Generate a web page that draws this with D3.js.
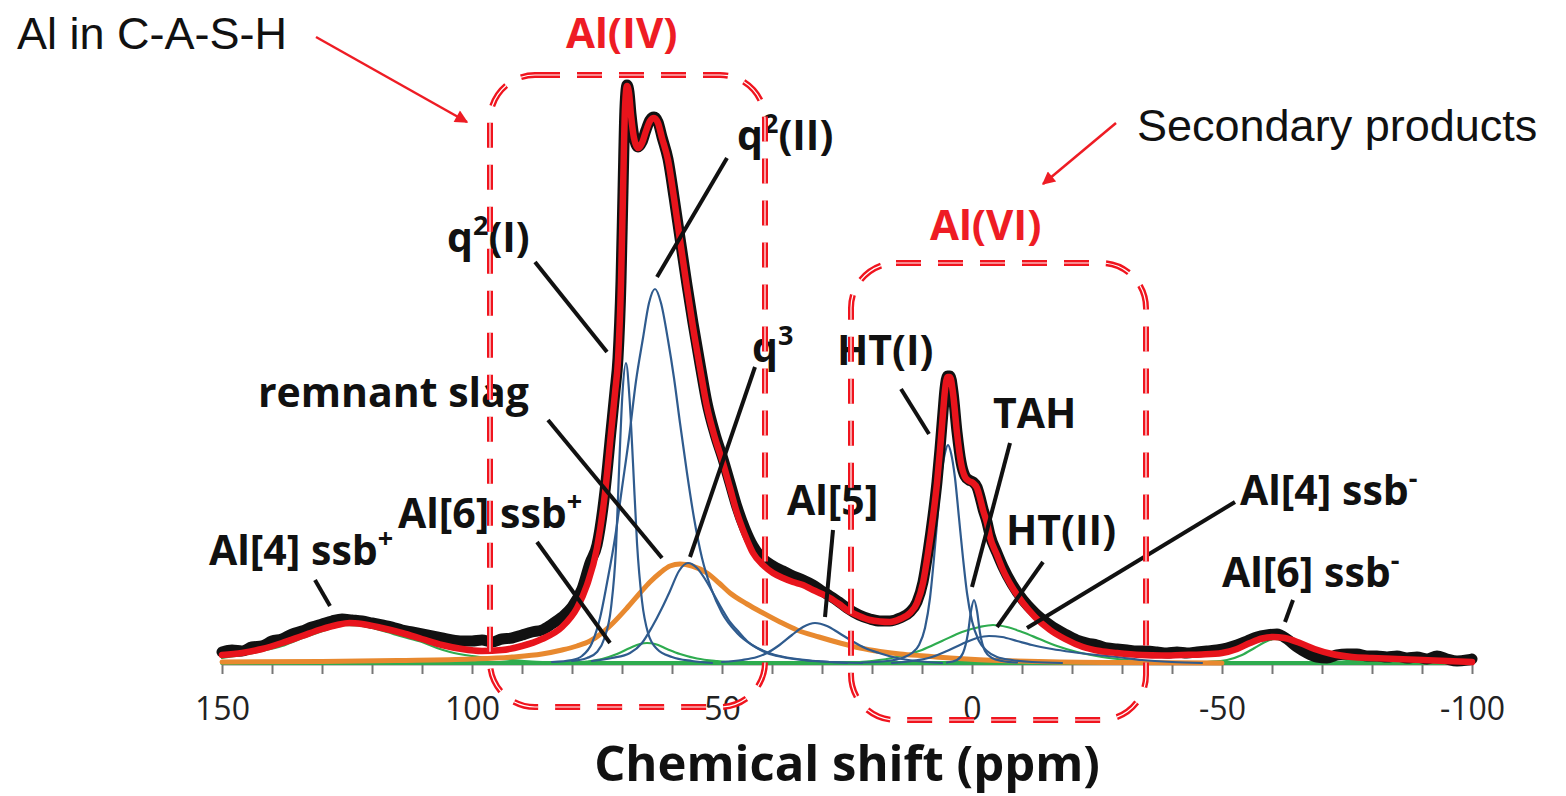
<!DOCTYPE html>
<html>
<head>
<meta charset="utf-8">
<title>27Al MAS NMR deconvolution</title>
<script src="https://d3js.org/d3.v7.min.js"></script>
<style>
  body { margin: 0; background: #fff; }
  svg { display: block; }
  .curve { fill: none; stroke-linejoin: round; stroke-linecap: round; }
  .lbl { font-family: "Open Sans", sans-serif; font-weight: 700; font-size: 41px; fill: #111; }
  .note { font-family: "Liberation Sans", Arial, sans-serif; fill: #111; }
</style>
</head>
<body>
<svg width="1566" height="796"></svg>
<script>
// chemical shift axis (ppm)
const xTicks = d3.range(150, -101, -10)
const xTickLabels = [150, 100, 50, 0, -50, -100]

// [ppm, intensity a.u.]
const experimental = [[150,11],[148,13],[146,12],[144,16],[142,17],[140,22],[138,24],[136,29],[134,32],[132,36],[130,39],[128,42],[126,44],[124,43],[122,42],[120,40],[118,38],[116,36],[114,33],[112,31],[110,29],[108,27],[106,25],[104,23],[102,22],[100,22],[98,23],[96,21],[94,24],[92,25],[90,28],[88,31],[86,33],[84,39],[82,46],[80,56],[78,74],[76.4,100],[75,118],[73.4,172],[72.2,232],[71.4,272],[70.8,305],[70.2,382],[69.8,472],[69.4,556],[69,578],[68.6,571],[68.2,549],[67.6,526],[66.8,516],[66,521],[65.2,533],[64.4,543],[63.6,546],[62.8,541],[62,526],[60.8,504],[59.6,466],[58.4,425],[57,378],[55.8,340],[54.4,299],[53,260],[51.4,229],[49.8,204],[48.4,180],[47,156],[45.4,134],[43.8,117],[41.8,104],[39.8,97],[37.8,92],[35.8,87],[33.8,83],[31.8,78],[30,72],[28.4,67],[26.6,61],[25,55],[22.6,48],[20.4,44],[18.4,42],[16.4,42],[14.4,45],[12.4,51],[11,61],[9.8,81],[8.8,111],[7.8,147],[7,181],[6.4,214],[5.8,251],[5.4,274],[4.9,287],[4.4,287],[3.8,271],[3,231],[2.2,201],[1.4,187],[0.6,183],[-0.2,181],[-1,176],[-1.6,166],[-2.2,154],[-3,141],[-3.6,128],[-5,110],[-6.2,96],[-8,79],[-10.2,63],[-12.6,50],[-15.6,38],[-18.6,29],[-21,23],[-23,20],[-25,18],[-27,15],[-29,14],[-31,13],[-33,12],[-35,12],[-37,11],[-39,10],[-41,11],[-43,10],[-45,11],[-47,12],[-49,13],[-51,15],[-53,18],[-55,22],[-57,26],[-59,28],[-61,29],[-63,24],[-65,16],[-67,10],[-69,6],[-71,5],[-73,8],[-75,9],[-77,9],[-79,7],[-81,7],[-83,6],[-85,7],[-87,5],[-89,6],[-91,4],[-93,7],[-95,4],[-97,2],[-99,3],[-100,4]]

const fit = [[150,8],[146,10],[142,14],[138,20],[134,27],[130,34],[127,38],[124.5,40],[122,39],[118,35],[114,30],[110,24],[106,18],[102,14],[98,12],[94,13],[90,17],[86,24],[82,36],[79,55],[77,78],[75,115],[73.4,170],[72.2,230],[71.4,270],[70.8,303],[70.2,380],[69.8,470],[69.4,555],[69,577],[68.6,570],[68.2,548],[67.6,525],[66.8,515],[66,520],[65.2,532],[64.4,542],[63.6,545],[62.8,540],[62,525],[60.8,503],[59.6,465],[58.4,423],[57,375],[55.8,336],[54.4,295],[53,256],[51.4,225],[49.8,200],[48.4,175],[47,150],[45.4,128],[43.8,110],[41.8,98],[39.8,90],[37.8,85],[35.8,81],[33.8,78],[31.8,73],[30,69],[28.4,65],[26.6,59],[25,53],[22.6,47],[20.4,43],[18.4,41.5],[16.4,41],[14.4,44],[12.4,50],[11,60],[9.8,80],[8.8,110],[7.8,146],[7,180],[6.4,213],[5.8,250],[5.4,273],[4.9,286],[4.4,286],[3.8,270],[3,230],[2.2,200],[1.4,186],[0.6,182],[-0.2,180],[-1,175],[-1.6,165],[-2.2,153],[-3,140],[-3.6,126],[-5,108],[-6.2,93],[-8,76],[-10.2,60],[-12.6,46],[-15.6,33],[-18.6,24],[-22.2,16],[-25.6,12],[-29,10],[-34,8],[-38,7.5],[-42,8],[-46,8.5],[-50,10],[-53,14],[-55.6,20],[-58,24.5],[-60.2,26],[-62.5,25],[-65.6,20],[-68.5,14],[-72,9],[-76,6],[-80,5],[-85,4],[-90,3],[-95,2],[-100,1]]

const baseline = [[150,0],[-100,0]]

// deconvoluted components
const remnantSlag = [[150,1],[130,1.5],[115,2.5],[100,4],[92,6],[86,9],[82,13],[79,17],[76.4,22],[74,30],[71.8,40],[69,55],[66.4,70],[64.4,81],[62.4,90],[60.4,97],[58.4,99],[56,97],[53,90],[50.6,80],[48.4,70],[45,59],[41.8,50],[38.4,41],[35,33],[30.6,26],[26.4,20],[22.4,15],[18.4,11.5],[14.4,9],[9.4,7],[4.4,5],[-0.6,3.5],[-5.6,2.5],[-15.6,1.2],[-30,0.5],[-50,0]]
const q2I = [[80,2],[77,5],[75,11],[73.5,25],[72.2,55],[71.2,115],[70.5,205],[69.9,270],[69.2,300],[68.5,265],[67.8,200],[67,120],[66,62],[64.8,30],[63,14],[60,6],[56,2],[52,0]]
const q2II = [[84,1],[80,3],[78,7],[76,20],[74.4,45],[73,80],[71.4,125],[70,175],[68.6,225],[67.2,282],[65.8,325],[64.6,360],[63.4,374],[62.2,360],[60.8,323],[59.6,285],[58.4,240],[57,190],[55.6,145],[54,105],[52.2,75],[50,50],[47,30],[44,18],[40,9],[35,4],[30,1.5],[25,0]]
const q3 = [[76,2],[72,5],[68.4,10],[66,20],[64,36],[62,55],[60.4,72],[58.6,92],[56.8,100],[55,95],[53.4,84],[51.8,70],[50,54],[48.4,41],[47,33],[45,22],[43,15],[41,10],[38,6],[34,3],[28,1],[22,0]]
const al5 = [[50,1],[46,3],[43,6],[41,10],[38.5,18],[36,28],[33.8,36],[31.4,40],[29,37],[26.6,30],[24,22],[21.4,15],[18.6,10],[15,5],[11,2],[6,0]]
const htI = [[22,0.5],[17,2],[14,5],[12,10],[10.6,18],[9.4,35],[8.4,65],[7.6,105],[7,140],[6.2,185],[5.4,210],[4.8,218],[4.2,210],[3.4,185],[2.6,145],[1.8,105],[1,70],[0,42],[-1.4,22],[-3,12],[-5,6],[-8,3],[-12,1],[-18,0]]
const tah = [[5,0.5],[3,3],[1.8,10],[0.8,30],[0.2,52],[-0.4,63],[-1,52],[-1.6,30],[-2.6,12],[-4,5],[-6,2],[-9,0.5]]
const htII = [[16,0],[12,2],[8,6],[5,12],[2,19],[-1,25],[-3.4,27],[-6,26],[-9,22],[-12,18],[-16,14],[-20,11],[-25,8],[-29,6],[-34,3],[-40,1],[-46,0]]
const al4ssbPlus = [[150,5],[146,8],[142,12],[138,17],[134.4,24],[131,30],[128,35],[126,38],[123,37.5],[120,35],[117,31],[114.4,27],[110,21],[107,15],[104.4,11],[100,7],[96.4,5],[92,3],[88,1.5],[82,0.5],[76,0]]
const al6ssbPlus = [[80,0],[77,1.5],[74,4],[71,9],[68.4,15],[66.4,19],[65,20],[63.4,19],[61,14],[58.4,9],[55,4.5],[51,2],[46,0.5],[40,0]]
const al4ssbMinus = [[26,0],[20,2],[15,6],[10,13],[6,22],[2,31],[-1.5,36],[-4.2,38],[-7,36],[-10,31],[-13.5,24],[-17,17],[-21,11],[-26,6],[-31,3],[-37,1],[-44,0]]
const al6ssbMinus = [[-42,0],[-47,1],[-51,3],[-54,8],[-56.5,15],[-58.6,21],[-60.6,24],[-62.6,22],[-65,17],[-67.5,11],[-70,7],[-74,3.5],[-79,1.5],[-86,0.5],[-92,0]]

const svg = d3.select("svg")
const x = d3.scaleLinear().domain([150, -100]).range([222, 1472])
const y = d3.scaleLinear().domain([0, 600]).range([663, 63])
const line = d3.line().x(d => x(d[0])).y(d => y(d[1])).curve(d3.curveMonotoneX)

// axis
const xAxis = d3.axisBottom(x).tickValues(xTicks).tickSize(10).tickSizeOuter(0).tickPadding(23)
  .tickFormat(d => xTickLabels.includes(d) ? d : "")
const gx = svg.append("g").attr("transform", `translate(0,${y(0) + 1})`).call(xAxis)
gx.select(".domain").attr("stroke", "#888").attr("stroke-width", 2)
gx.selectAll(".tick line").attr("stroke", "#777").attr("stroke-width", 2)
gx.selectAll(".tick text").attr("font-family", "Open Sans, sans-serif").attr("font-size", 32).attr("fill", "#222")

svg.append("text")
  .attr("x", 847).attr("y", 781).attr("text-anchor", "middle")
  .attr("font-family", "Open Sans, sans-serif").attr("font-weight", 700).attr("font-size", 49).attr("fill", "#111")
  .text("Chemical shift (ppm)")

const draw = (data, color, width) => svg.append("path").datum(data).attr("class", "curve")
  .attr("d", line).attr("stroke", color).attr("stroke-width", width)

const green = "#2eac4f", blue = "#2f5b8e"
draw(baseline, green, 4)
;[al4ssbPlus, al6ssbPlus, al4ssbMinus, al6ssbMinus].forEach(d => draw(d, green, 2.2))
draw(remnantSlag, "#e8892f", 5)
;[q2I, q2II, q3, al5, htI, tah, htII].forEach(d => draw(d, blue, 2.2))
draw(experimental, "#111", 11)
draw(fit, "#e8141c", 6.5)

// peak assignments: label start and leader line, in [ppm, intensity]
const labels = [
  { text: "Al[4] ssb^+", at: [152.6, 98], lead: [[131.4, 83], [128.4, 57]] },
  { text: "Al[6] ssb^+", at: [114.8, 135], lead: [[87, 121], [72.4, 20]] },
  { text: "remnant slag", at: [142.8, 256], lead: [[84.8, 243], [62, 105]] },
  { text: "q^2(I)", at: [105, 411], lead: [[87.4, 401], [73, 311]] },
  { text: "q^2(II)", at: [47, 513], lead: [[49, 505], [63, 386]] },
  { text: "q^3", at: [44, 301], lead: [[43.4, 296], [56.4, 106]] },
  { text: "HT(I)", at: [27, 298], lead: [[14.2, 274], [8.6, 229]] },
  { text: "TAH", at: [-4.2, 235], lead: [[-7.6, 220], [0, 76]] },
  { text: "Al[5]", at: [37, 148], lead: [[27.8, 133], [29.4, 46]] },
  { text: "HT(II)", at: [-6.8, 118], lead: [[-14.2, 101], [-5, 36]] },
  { text: "Al[4] ssb^-", at: [-53.6, 158], lead: [[-52.6, 161], [-11, 35]] },
  { text: "Al[6] ssb^-", at: [-50, 76], lead: [[-64.2, 63], [-62.6, 41]] }
]

labels.forEach(l => {
  svg.append("line")
    .attr("x1", x(l.lead[0][0])).attr("y1", y(l.lead[0][1]))
    .attr("x2", x(l.lead[1][0])).attr("y2", y(l.lead[1][1]))
    .attr("stroke", "#111").attr("stroke-width", 4)
  const t = svg.append("text").attr("class", "lbl").attr("x", x(l.at[0])).attr("y", y(l.at[1]))
  const segs = l.text.split("^")
  t.append("tspan").text(segs[0])
  segs.slice(1).forEach(s => {
    t.append("tspan").attr("dy", -17).attr("font-size", 27).text(s[0])
    if (s.length > 1) t.append("tspan").attr("dy", 17).text(s.slice(1))
  })
})

// dashed regions
function dashedBox(p0, p1) {
  const bx = x(p0[0]), by = y(p0[1])
  ;[["#f0141e", 6], ["#fff", 1.2]].forEach(([c, w]) => {
    svg.append("rect").attr("x", bx).attr("y", by)
      .attr("width", x(p1[0]) - bx).attr("height", y(p1[1]) - by)
      .attr("rx", 45).attr("fill", "none").attr("stroke", c).attr("stroke-width", w)
      .attr("stroke-dasharray", "25 17")
  })
}
dashedBox([96.4, 588], [41.4, -44])
dashedBox([24.2, 400], [-34.8, -57])

const red = "#ee1c24"
svg.append("text").attr("class", "lbl").attr("x", x(81.2)).attr("y", y(615))
  .style("font-size", "42px").style("fill", red).text("Al(IV)")
svg.append("text").attr("class", "lbl").attr("x", x(8.4)).attr("y", y(423))
  .style("font-size", "42px").style("fill", red).text("Al(VI)")

svg.append("defs").append("marker").attr("id", "arr")
  .attr("viewBox", "0 0 10 10").attr("refX", 9).attr("refY", 5)
  .attr("markerWidth", 18).attr("markerHeight", 13).attr("markerUnits", "userSpaceOnUse")
  .attr("orient", "auto")
  .append("path").attr("d", "M0,0L10,5L0,10z").attr("fill", red)

const notes = [
  { text: "Al in C-A-S-H", at: [191, 614], from: [131.2, 626], to: [101, 541] },
  { text: "Secondary products", at: [-33, 522], from: [-28.8, 540], to: [-14.2, 479] }
]
notes.forEach(n => {
  svg.append("text").attr("class", "note").attr("x", x(n.at[0])).attr("y", y(n.at[1]))
    .attr("font-size", 45).text(n.text)
  svg.append("line")
    .attr("x1", x(n.from[0])).attr("y1", y(n.from[1]))
    .attr("x2", x(n.to[0])).attr("y2", y(n.to[1]))
    .attr("stroke", red).attr("stroke-width", 2.5).attr("marker-end", "url(#arr)")
})
</script>
</body>
</html>
